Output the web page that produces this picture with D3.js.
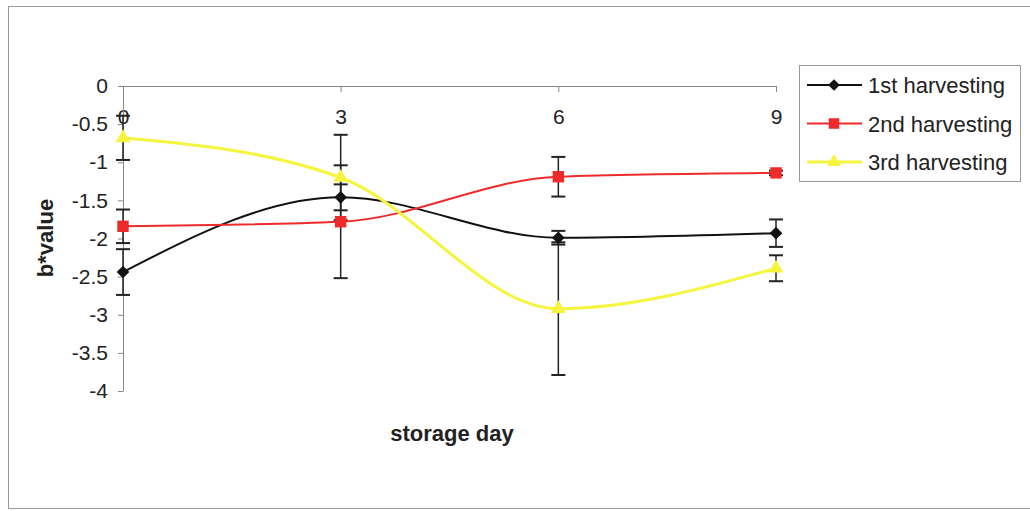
<!DOCTYPE html>
<html>
<head>
<meta charset="utf-8">
<script src="https://cdn.jsdelivr.net/npm/d3@7"></script>
<style>
body { margin: 0; background: #fff; }
text { font-family: "Liberation Sans", Arial, sans-serif; fill: #222; }
.tick text { font-size: 21px; }
.title { font-size: 22px; font-weight: bold; }
.legend text { font-size: 22px; }
</style>
</head>
<body>
<script>
//Data
const days = [0, 3, 6, 9];
const yTicks = [0, -0.5, -1, -1.5, -2, -2.5, -3, -3.5, -4];
const seriesNames = ["1st harvesting", "2nd harvesting", "3rd harvesting"];
const firstVals = [-2.44, -1.46, -1.99, -1.93];
const firstErr = [0.30, 0.17, 0.09, 0.18];
const secondVals = [-1.84, -1.78, -1.19, -1.14];
const secondErr = [0.22, 0.74, 0.26, 0.03];
const thirdVals = [-0.68, -1.20, -2.92, -2.39];
const thirdErr = [0.29, 0.56, 0.87, 0.17];

const width = 1030;
const height = 511;

//diamond = square turned 45 degrees
const series = [
    {name: seriesNames[0], vals: firstVals, err: firstErr, color: "#111", shape: d3.symbolSquare, rot: 45, size: 80, lw: 2},
    {name: seriesNames[1], vals: secondVals, err: secondErr, color: "#ee2a2a", shape: d3.symbolSquare, rot: 0, size: 130, lw: 2},
    {name: seriesNames[2], vals: thirdVals, err: thirdErr, color: "#f6f53e", shape: d3.symbolTriangle, rot: 0, size: 95, lw: 3}
];

//Scales
const xScale = d3.scaleLinear().domain([0, 9]).range([123, 776]);
const yScale = d3.scaleLinear().domain([-4, 0]).range([391, 86]);

const svg = d3.select("body").append("svg")
    .attr("width", width)
    .attr("height", height);

//Outer chart frame
svg.append("rect")
    .attr("x", 8.5).attr("y", 6.5)
    .attr("width", 1040).attr("height", 502)
    .attr("fill", "#fff")
    .attr("stroke", "#999");

//Axes
const xAxis = d3.axisBottom(xScale).tickValues(days).tickSize(6).tickPadding(17).tickSizeOuter(0);
const yAxis = d3.axisLeft(yScale).tickValues(yTicks).tickSize(5).tickPadding(10).tickSizeOuter(0)
    .tickFormat(d => d === 0 ? "0" : d3.format("")(d).replace("−", "-"));

svg.append("g")
    .attr("transform", "translate(0," + yScale(0) + ")")
    .call(xAxis);

svg.append("g")
    .attr("transform", "translate(" + xScale(0) + ",0)")
    .call(yAxis);

svg.selectAll(".domain, .tick line").attr("stroke", "#888");
svg.selectAll(".tick text").attr("fill", "#222").style("font-family", "Liberation Sans, Arial, sans-serif");

//Error bars (drawn first, all black)
series.forEach(s => {
    const g = svg.append("g");
    days.forEach((d, i) => {
        const x = xScale(d);
        const y1 = yScale(s.vals[i] + s.err[i]);
        const y2 = yScale(s.vals[i] - s.err[i]);
        g.append("line").attr("x1", x).attr("x2", x).attr("y1", y1).attr("y2", y2)
            .attr("stroke", "#222").attr("stroke-width", 1.5);
        [y1, y2].forEach(y => {
            g.append("line").attr("x1", x - 7).attr("x2", x + 7).attr("y1", y).attr("y2", y)
                .attr("stroke", "#222").attr("stroke-width", 2);
        });
    });
});

//Smoothed lines
const line = d3.line()
    .x((d, i) => xScale(days[i]))
    .y(d => yScale(d))
    .curve(d3.curveMonotoneX);

series.forEach(s => {
    svg.append("path")
        .datum(s.vals)
        .attr("d", line)
        .attr("fill", "none")
        .attr("stroke", s.color)
        .attr("stroke-width", s.lw);
});

//Markers
series.forEach(s => {
    svg.selectAll(null)
        .data(s.vals)
        .enter().append("path")
        .attr("d", d3.symbol().type(s.shape).size(s.size))
        .attr("transform", (d, i) => "translate(" + xScale(days[i]) + "," + yScale(d) + ") rotate(" + s.rot + ")")
        .attr("fill", s.color);
});

//Axis titles
svg.append("text")
    .attr("class", "title")
    .attr("x", 452).attr("y", 441)
    .attr("text-anchor", "middle")
    .text("storage day");

svg.append("text")
    .attr("class", "title")
    .attr("transform", "translate(53,238) rotate(-90)")
    .attr("text-anchor", "middle")
    .text("b*value");

//Legend
const legend = svg.append("g").attr("class", "legend");
legend.append("rect")
    .attr("x", 799.5).attr("y", 65.5)
    .attr("width", 221).attr("height", 116)
    .attr("fill", "#fff")
    .attr("stroke", "#999");

series.forEach((s, i) => {
    const y = 85 + i * 38.5;
    legend.append("line")
        .attr("x1", 807).attr("x2", 862).attr("y1", y).attr("y2", y)
        .attr("stroke", s.color).attr("stroke-width", s.lw);
    legend.append("path")
        .attr("d", d3.symbol().type(s.shape).size(s.size * 0.85))
        .attr("transform", "translate(834," + y + ") rotate(" + s.rot + ")")
        .attr("fill", s.color);
    legend.append("text")
        .attr("x", 868).attr("y", y + 8)
        .text(s.name);
});
</script>
</body>
</html>
